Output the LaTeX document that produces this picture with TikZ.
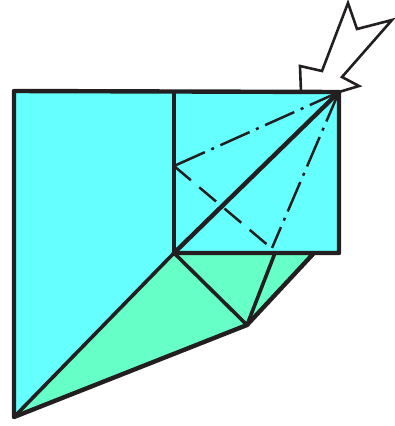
\documentclass[tikz,border=0pt]{standalone}
\definecolor{foldcyan}{HTML}{66FFFF}
\definecolor{foldgreen}{HTML}{66FFC8}
\definecolor{foldink}{HTML}{231F20}
\usetikzlibrary{calc}

\begin{document}
\begin{tikzpicture}[
  x=1pt, y=-1pt,
  edge/.style={draw=foldink, line width=4.4pt, line join=round, line cap=round},
  crease/.style={draw=foldink, line width=3.6pt, line cap=round},
  mountain/.style={draw=foldink, line width=2.5pt, dash pattern=on 32pt off 7pt on 3pt off 7pt},
  valley/.style={draw=foldink, line width=2.5pt, dash pattern=on 22pt off 11pt},
  arrowline/.style={draw=foldink, line width=2.6pt, line join=miter, fill=white},
]
\useasboundingbox (0,0) rectangle (395,426);

\coordinate (tl) at (14,91);
\coordinate (tm) at (174,92);
\coordinate (tr) at (339,92);
\coordinate (br) at (339,253);
\coordinate (cc) at (174,253);
\coordinate (ml) at (174,166);
\coordinate (bl) at (14,417);
\coordinate (tip) at (247,325);
\coordinate (fr) at (314,253);
\coordinate (fm) at (275,253);
\coordinate (vend) at (270,247);
\coordinate (mend) at (272,248);

% hollow arrow
\draw[arrowline] (301,92) -- (300,66) -- (322,71) -- (348,3) -- (357,29) -- (392,20)
  -- (342,77) -- (359,86) -- (tr);

% paper
\fill[foldcyan] (tl) -- (tr) -- (br) -- (cc) -- (bl) -- cycle;
\fill[foldgreen] (cc) -- (fr) -- (tip) -- (bl) -- cycle;

% creases
\draw[mountain] (tr) -- (ml);
\draw[mountain] (tr) -- (mend);
\draw[valley] (ml) -- (vend);
\draw[crease] (tm) -- (cc);
\draw[crease] (cc) -- (tip);
\draw[crease] (fm) -- (tip);
\draw[crease] (cc) -- (bl);
\draw[edge] (cc) -- (tr);

% outline
\draw[edge] (fr) -- (tip) -- (bl) -- (tl) -- (tr) -- (br) -- (cc);
\end{tikzpicture}
\end{document}
